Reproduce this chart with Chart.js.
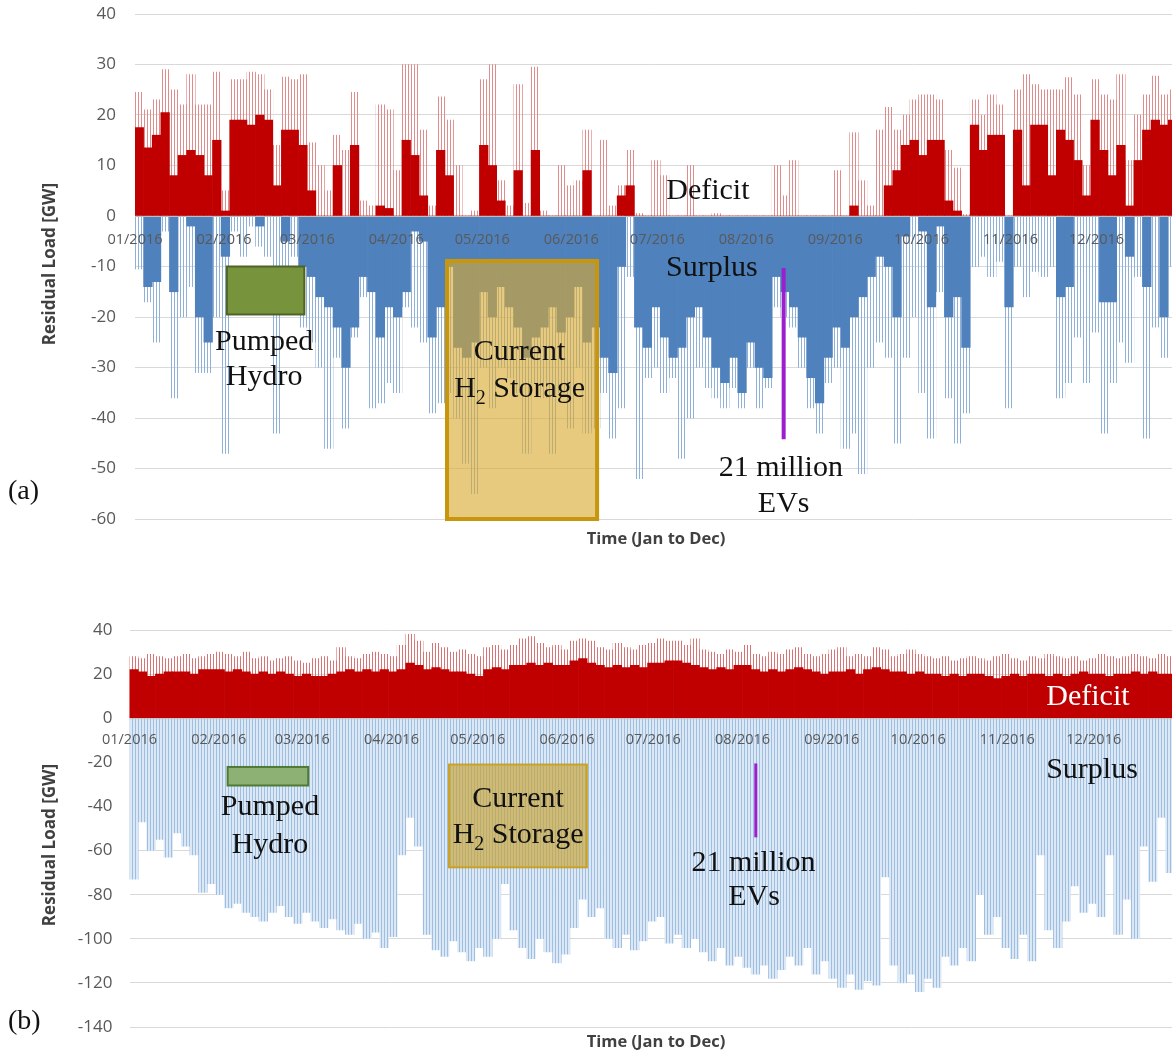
<!DOCTYPE html>
<html>
<head>
<meta charset="utf-8">
<script src="https://cdn.jsdelivr.net/npm/chart.js@4.4.1/dist/chart.umd.min.js"></script>
<style>
  html, body { margin: 0; padding: 0; background: #fff; overflow: hidden; }
  body { width: 1172px; height: 1053px; position: relative; font-family: "Open Sans", sans-serif; }
  canvas { position: absolute; left: 0; }
  #chartA { top: 0; }
  #chartB { top: 600px; }
  .ytitle { position: absolute; font-weight: bold; font-size: 17px; color: #404040; white-space: nowrap;
            transform: translate(-50%, -50%) rotate(-90deg); }
  .xtitle { position: absolute; font-weight: bold; font-size: 16.5px; color: #404040; white-space: nowrap;
            transform: translate(-50%, -50%); }
  .panel { position: absolute; left: 8px; font-family: "Liberation Serif", serif; font-size: 28px; color: #111;
           transform: translateY(-50%); }
</style>
</head>
<body>
<canvas id="chartA" width="1172" height="560"></canvas>
<canvas id="chartB" width="1172" height="453"></canvas>
<div class="ytitle" style="left:48px; top:264px;">Residual Load [GW]</div>
<div class="ytitle" style="left:48px; top:845px;">Residual Load [GW]</div>
<div class="xtitle" style="left:656px; top:537px;">Time (Jan to Dec)</div>
<div class="xtitle" style="left:656px; top:1040px;">Time (Jan to Dec)</div>
<div class="panel" style="top:490px;">(a)</div>
<div class="panel" style="top:1020px;">(b)</div>

<script>
// month ticks (day of year 2016 where each month starts)
const monthStarts = [0, 31, 60, 91, 121, 152, 182, 213, 244, 274, 305, 335];
const monthLabels = ['01/2016', '02/2016', '03/2016', '04/2016', '05/2016', '06/2016',
                     '07/2016', '08/2016', '09/2016', '10/2016', '11/2016', '12/2016'];
const binDays = 3; // each value below covers 3 days

// (a) today's mix - GW, one value per 3-day bin
const aPeak = [24.5,21,23,29,25,22,28,22,22,28.5,5,27,27,28.5,28,25,14,27.5,27,28,14.5,10,5,16,13,24.5,3,2,22,21,9,
  30,30,17,2,23.6,19,10,0,1,27,30,7,2,26,2.5,29.5,1,0,10,6,7,17,0,15,2,6,13,0.5,0,11,8,0,
  0,10,0,0,0.5,0,0,0,0,0,0,10,4,11,0,0,0,0,9,0,16.5,7,2,17,21.5,17,20,23,24,
  24,23,13,9.5,0.3,23,20,24,22,0,25,28,26,25,25,25,27.4,24,10,27,24,23,28,11,20,24,27.7,24,25];
const aDeficit = [17.5,13.5,16,20.5,8,12,13,12,8,15,1,19,19,18,20,19,6,17,17,14,5,0,0,10,0,14,0,0,2,1.5,0,
  15,12,4,0,13,8,0,0,0,14,10,3,0,9,0,13,0,0,0,0,0,9,0,0,0,4,6,0,0,0,0,0,
  0,0,0,0,0,0,0,0,0,0,0,0,0,0,0,0,0,0,0,0,2,0,0,0,6,9,14,15,12,
  15,15,3,1,0,18,13,16,16,0,17,6,18,18,8,17,15,11,4,19,13,8,14,2,11,17,19,18,19];
const aSurplus = [0,-14,-13,0,-15,0,-2,-20,-25,0,-8,0,0,0,-2,0,0,-5,0,-10,-12,-16,-18,-22,-30,-22,-12,-15,-24,-18,-20,
  -15,-3,-5,-24,-18,-10,-26,-28,-25,-15,-20,-14,-18,-22,-28,-24,-22,-18,-23,-20,-14,-25,-22,-28,-31,-10,0,-22,-26,-18,-24,-28,
  -26,-20,-18,-24,-30,-33,-28,-35,-25,-30,-32,-12,-15,-18,-24,-32,-37,-28,-22,-26,-20,-16,-12,-8,-10,-20,-4,0,-3,
  -18,-2,-20,-16,-26,0,0,0,0,-18,0,0,0,0,0,-16,-14,0,0,0,-17,-17,0,-8,0,-14,0,-20,0];
const aSurplusPeak = [-10.5,-17,-25,-3,-36,-20,-14,-31,-31,-20,-47,-3,-8,-2,-6,-8,-43,-12,-8,-22,-25,-30,-46,-28,-42,-24,-16,-38,-37,-33,-35,
  -18,-22,-25,-39,-37,-35,-40,-49,-55,-30,-38,-30,-32,-35,-47,-33,-36,-47,-35,-42,-30,-43,-42,-35,-44,-38,-12,-52,-32,-30,-35,-32,
  -48,-40,-30,-34,-36,-38,-34,-38,-30,-38,-34,-18,-20,-22,-30,-38,-43,-33,-30,-46,-43,-51,-30,-25,-28,-45,-28,-20,-35,
  -44,-15,-36,-45,-39,-10,-8,-12,-9,-38,-10,-16,-11,-12,-10,-36,-33,-24,-33,-23,-43,-33,-25,-29,-12,-44,-22,-28,-10];

// (b) future mix - GW, one value per 3-day bin
const bPeak = [28,27,29,28,27,28,29,27,28,29,30,29,28,30,27,28,26,27,28,26,25,27,28,26,32,28,27,29,30,29,28,
  33,38,35,30,34,32,30,31,29,28,32,33,31,33,36,37,34,32,33,31,35,36,35,32,31,34,32,31,33,34,36,35,
  35,33,36,31,30,29,31,30,33,29,28,30,29,31,32,29,28,29,31,32,28,29,28,32,31,28,29,31,29,28,
  27,28,26,27,28,27,26,28,29,27,26,28,27,29,28,27,28,26,27,29,28,27,28,29,28,27,29,28];
const bDeficit = [22,21,19,20,21,21,21,20,22,22,22,21,22,21,20,21,20,21,20,19,20,19,19,20,21,22,21,22,21,22,21,
  22,25,24,22,23,22,21,21,20,19,22,23,22,24,24,25,24,25,24,24,26,27,25,24,23,24,23,24,23,25,25,26,
  26,25,24,23,22,23,22,24,24,22,21,22,21,22,23,22,21,20,21,21,22,20,22,23,22,21,21,20,21,20,
  20,19,20,19,20,20,19,18,19,20,19,20,20,19,20,19,20,21,20,20,19,20,20,21,20,21,20,20];
const bSurplus = [-73,-47,-60,-55,-63,-52,-58,-62,-79,-75,-80,-86,-84,-88,-90,-92,-88,-85,-90,-93,-88,-92,-95,-91,-96,-98,-93,-100,-97,-104,-99,
  -62,-45,-58,-98,-105,-108,-101,-106,-110,-104,-108,-100,-75,-96,-104,-109,-100,-106,-111,-107,-95,-82,-90,-86,-100,-104,-98,-105,-101,-92,-90,-102,
  -98,-104,-100,-106,-110,-104,-112,-108,-113,-116,-112,-118,-114,-108,-112,-104,-116,-110,-118,-122,-116,-123,-119,-121,-72,-112,-120,-116,-124,-118,
  -122,-108,-112,-104,-110,-80,-98,-90,-104,-109,-98,-110,-62,-96,-104,-92,-76,-88,-84,-90,-62,-98,-82,-100,-58,-74,-45,-70];

Chart.defaults.font.family = '"Open Sans", sans-serif';

// put each bin value at the middle of its 3 days
function toPoints(values) {
  return values.map((v, i) => ({ x: i * binDays + binDays / 2, y: v }));
}

// thin vertical hatching, looks like the hourly spikes of the original
function stripes(line, gap) {
  const c = document.createElement('canvas');
  c.width = 3; c.height = 4;
  const g = c.getContext('2d');
  if (gap) { g.fillStyle = gap; g.fillRect(0, 0, 3, 4); }
  g.fillStyle = line;
  g.fillRect(0, 0, 1, 4);
  return g.createPattern(c, 'repeat');
}

function barSet(values, color, order) {
  return {
    data: toPoints(values),
    backgroundColor: color,
    borderWidth: 0,
    barPercentage: 1,
    categoryPercentage: 1,
    grouped: false,
    order: order
  };
}

function noPadding(s) {
  s.paddingLeft = 0; s.paddingRight = 0; s.paddingTop = 0; s.paddingBottom = 0;
}

// zero line with month labels, boxes, marker line and labels - all in data coordinates
const notes = {
  id: 'notes',
  afterDraw(chart, args, opts) {
    const { ctx, chartArea } = chart;
    const xs = chart.scales.x, ys = chart.scales.y;
    const zero = ys.getPixelForValue(0);
    ctx.save();

    ctx.strokeStyle = '#BFBFBF';
    ctx.lineWidth = 1;
    ctx.beginPath();
    ctx.moveTo(chartArea.left, zero + 0.5);
    ctx.lineTo(chartArea.right, zero + 0.5);
    ctx.stroke();

    ctx.fillStyle = '#595959';
    ctx.font = '14.5px "Open Sans", sans-serif';
    ctx.textAlign = 'center';
    ctx.textBaseline = 'middle';
    monthStarts.forEach((d, i) => {
      ctx.fillText(monthLabels[i], xs.getPixelForValue(d), zero + opts.monthGap);
    });

    (opts.boxes || []).forEach(b => {
      const x0 = xs.getPixelForValue(b.days[0]), x1 = xs.getPixelForValue(b.days[1]);
      const y0 = ys.getPixelForValue(b.gw[0]), y1 = ys.getPixelForValue(b.gw[1]);
      ctx.fillStyle = b.fill;
      ctx.fillRect(x0, y0, x1 - x0, y1 - y0);
      ctx.strokeStyle = b.stroke;
      ctx.lineWidth = b.lineWidth;
      ctx.strokeRect(x0, y0, x1 - x0, y1 - y0);
    });
    (opts.lines || []).forEach(l => {
      const x = xs.getPixelForValue(l.day);
      ctx.strokeStyle = l.color;
      ctx.lineWidth = l.lineWidth;
      ctx.beginPath();
      ctx.moveTo(x, ys.getPixelForValue(l.gw[0]));
      ctx.lineTo(x, ys.getPixelForValue(l.gw[1]));
      ctx.stroke();
    });

    ctx.textAlign = 'left';
    (opts.texts || []).forEach(t => {
      const size = opts.fontSize;
      const parts = t.parts || [{ text: t.text }];
      const fontFor = p => (p.sub ? Math.round(size * 0.65) : size) + 'px "Liberation Serif", serif';
      let total = 0;
      parts.forEach(p => { ctx.font = fontFor(p); p.w = ctx.measureText(p.text).width; total += p.w; });
      let x = xs.getPixelForValue(t.at[0]) - total / 2;
      const y = ys.getPixelForValue(t.at[1]);
      ctx.fillStyle = t.color || '#111';
      parts.forEach(p => {
        ctx.font = fontFor(p);
        ctx.fillText(p.text, x, p.sub ? y + size * 0.32 : y);
        x += p.w;
      });
    });
    ctx.restore();
  }
};

function makeChart(id, p) {
  return new Chart(document.getElementById(id), {
    type: 'bar',
    data: { datasets: p.datasets },
    plugins: [notes],
    options: {
      responsive: false,
      animation: false,
      layout: { padding: { top: p.top, bottom: p.bottom, left: 0, right: 0 } },
      plugins: { legend: { display: false }, tooltip: { enabled: false }, notes: p.notes },
      scales: {
        x: {
          type: 'linear', display: false, offset: false, bounds: 'data',
          min: 0, max: p.xMax, grace: 0,
          afterFit: noPadding
        },
        y: {
          min: p.yMin,
          max: p.yMax,
          afterFit: s => { s.width = p.yWidth; noPadding(s); },
          grid: { color: '#D9D9D9', drawTicks: false },
          border: { display: false },
          ticks: { stepSize: p.step, padding: p.yPad, color: '#595959', font: { size: 17 } }
        }
      }
    }
  });
}

// (a)
makeChart('chartA', {
  top: 14, bottom: 41, yWidth: 135, xMax: 361.3,
  yMin: -60, yMax: 40, step: 10, yPad: 19,
  datasets: [
    barSet(aPeak, stripes('#E08C8C'), 2),
    barSet(aDeficit, '#C00000', 1),
    barSet(aSurplusPeak, stripes('#8FB1D9'), 2),
    barSet(aSurplus, '#4F81BD', 1)
  ],
  notes: {
    fontSize: 30,
    monthGap: 24,
    boxes: [
      { days: [32, 59], gw: [-10, -19.5], fill: '#77933C', stroke: '#4F6228', lineWidth: 2 },
      { days: [108.7, 161], gw: [-8.9, -60], fill: 'rgba(218,170,48,0.62)', stroke: '#C8960C', lineWidth: 4 }
    ],
    lines: [{ day: 226, gw: [-10.3, -44.2], color: '#9B1FCF', lineWidth: 4 }],
    texts: [
      { text: 'Pumped', at: [45, -25] },
      { text: 'Hydro', at: [45, -32] },
      { text: 'Current', at: [134, -27] },
      { parts: [{ text: 'H' }, { text: '2', sub: true }, { text: ' Storage' }], at: [134, -34.3] },
      { text: '21 million', at: [225, -50] },
      { text: 'EVs', at: [226, -57] },
      { text: 'Deficit', at: [199.6, 5] },
      { text: 'Surplus', at: [201, -10.3] }
    ]
  }
});

// (b)
makeChart('chartB', {
  top: 30, bottom: 26, yWidth: 129.5, xMax: 362.2,
  yMin: -140, yMax: 40, step: 20, yPad: 17,
  datasets: [
    barSet(bPeak, stripes('#DA7373'), 2),
    barSet(bDeficit, '#C00000', 1),
    barSet(bSurplus, stripes('#9FBFE0', '#DCE8F5'), 2)
  ],
  notes: {
    fontSize: 30,
    monthGap: 22,
    boxes: [
      { days: [34.1, 62.1], gw: [-22.1, -30.5], fill: '#8DB174', stroke: '#4E7A34', lineWidth: 2 },
      { days: [111, 158.9], gw: [-21, -67.6], fill: 'rgba(200,160,40,0.62)', stroke: '#C9A227', lineWidth: 2 }
    ],
    lines: [{ day: 217.6, gw: [-20.5, -54], color: '#9B1FCF', lineWidth: 3 }],
    texts: [
      { text: 'Pumped', at: [48.8, -40.5] },
      { text: 'Hydro', at: [48.8, -57.5] },
      { text: 'Current', at: [135, -36.5] },
      { parts: [{ text: 'H' }, { text: '2', sub: true }, { text: ' Storage' }], at: [135, -53.2] },
      { text: '21 million', at: [216.8, -65.5] },
      { text: 'EVs', at: [217, -81] },
      { text: 'Deficit', at: [333, 9.5], color: '#FFFFFF' },
      { text: 'Surplus', at: [334.4, -23.5] }
    ]
  }
});
</script>
</body>
</html>
